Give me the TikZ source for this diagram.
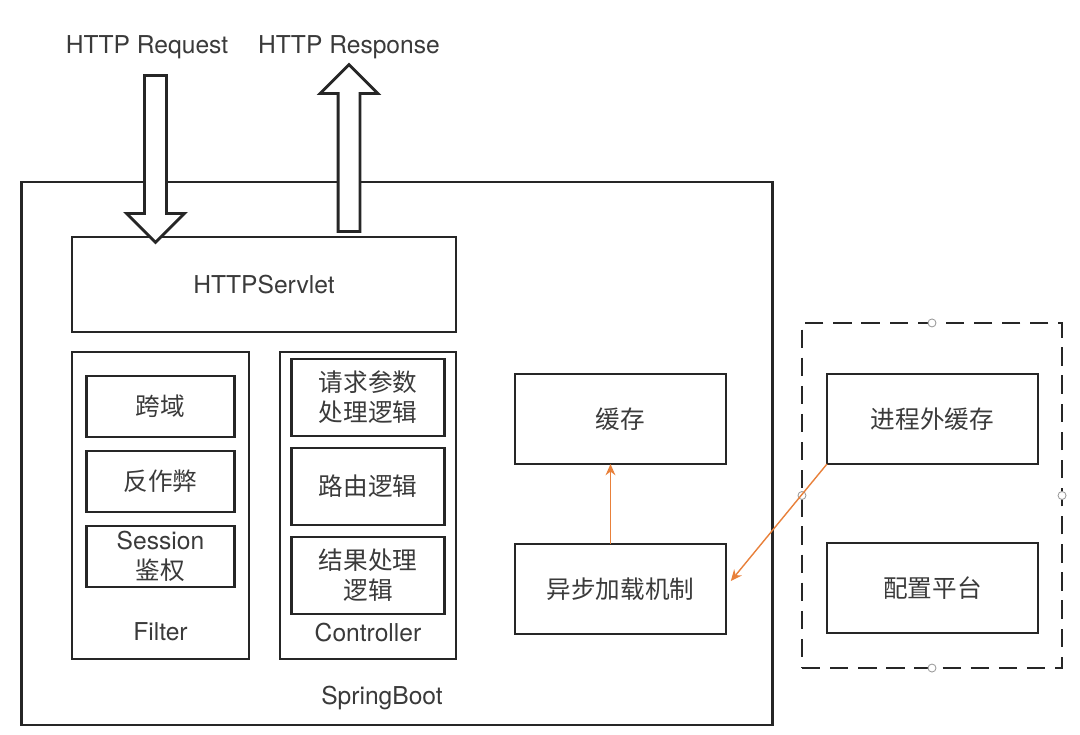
\documentclass[tikz,border=0pt]{standalone}
\usepackage{fontspec}
\setmainfont{TeX Gyre Heros}
\newfontfamily\cjk{Noto Sans CJK SC}
\usetikzlibrary{positioning, arrows.meta, shapes.arrows}
\definecolor{linec}{HTML}{262626}
\definecolor{textc}{HTML}{3A3A3A}
\definecolor{orangec}{HTML}{E8803A}
\definecolor{handlec}{HTML}{9A9A9A}

\begin{document}
\begin{tikzpicture}[x=0.025cm, y=-0.025cm,
     node distance = 3.5mm and 3.5mm,
every node/.style = {font=\fontsize{17.5}{21.3}\selectfont, text=textc},
        zh/.style = {font=\fontsize{17.5}{21.3}\selectfont\cjk},
     frame/.style = {rectangle, draw=linec, line width=2pt, inner sep=0pt, outer sep=0pt},
       box/.style = {frame, align=center},
      fbox/.style = {box, minimum width=3.7cm, minimum height=1.525cm},
      cbox/.style = {box, minimum width=3.825cm, minimum height=1.925cm},
      wbox/.style = {box, minimum width=5.275cm, minimum height=2.25cm},
  fatarrow/.style = {single arrow, draw=linec, fill=white, line width=2pt,
                     inner sep=0.2375cm, minimum height=4.175cm,
                     single arrow head extend=0.45cm, single arrow tip angle=90},
      link/.style = {draw=orangec, line width=1pt, -{Stealth[length=8pt, width=7pt]}},
    handle/.style = {circle, draw=handlec, fill=white, line width=0.6pt,
                     inner sep=0pt, minimum size=0.2cm}
                        ]
\useasboundingbox (0,0) rectangle (1080,735);

% SpringBoot
\node (boot) [frame, minimum width=18.75cm, minimum height=13.575cm] at (397,453.5) {};
\node (bootname) at (382,698) {SpringBoot};
\node (servlet) [box, minimum width=9.6cm, minimum height=2.375cm] at (264,284.5) {HTTPServlet};

% Filter
\node (filter) [frame, minimum width=4.425cm, minimum height=7.675cm] at (160.5,505.5) {};
\node (filtername) at (160.5,632) {Filter};
\node (cors)    [fbox, zh, below=0.6cm of filter.north] {跨域};
\node (cheat)   [fbox, zh, below=of cors] {反作弊};
\node (session) [fbox, below=of cheat] {Session\\{\cjk 鉴权}};

% Controller
\node (ctrl) [frame, minimum width=4.4cm, minimum height=7.675cm] at (368,505.5) {};
\node (ctrlname) at (368,633) {Controller};
\node (params) [cbox, zh, below=0.175cm of ctrl.north] {请求参数\\处理逻辑};
\node (route)  [cbox, zh, below=0.3cm of params] {路由逻辑};
\node (result) [cbox, zh, below=0.3cm of route] {结果处理\\逻辑};

% cache
\node (cache) [wbox, zh] at (620.5,419) {缓存};
\node (async) [wbox, zh, below=2cm of cache] {异步加载机制};

% outside
\node (ext) [frame, dash pattern=on 13pt off 7pt, minimum width=6.5cm, minimum height=8.625cm] at (932,495.5) {};
\foreach \a in {north, south, east, west}
  \node (h-\a) [handle] at (ext.\a) {};
\node (remote) [wbox, zh] at (932.5,419) {进程外缓存};
\node (config) [wbox, zh, below=1.975cm of remote] {配置平台};

\draw[link] ([xshift=-0.25cm]async.north) -- ([xshift=-0.25cm]cache.south);
\draw[link] (remote.south west) -- ([xshift=0.12cm, yshift=0.2cm]async.east);

% request / response
\node (reqlabel)  at (147,47) {HTTP Request};
\node (resplabel) at (349,47) {HTTP Response};
\node (reqarrow)  [fatarrow, rotate=-90] at (155.5,153.5) {};
\node (resparrow) [fatarrow, rotate=90] at (349,153.5) {};
\end{tikzpicture}
\end{document}
